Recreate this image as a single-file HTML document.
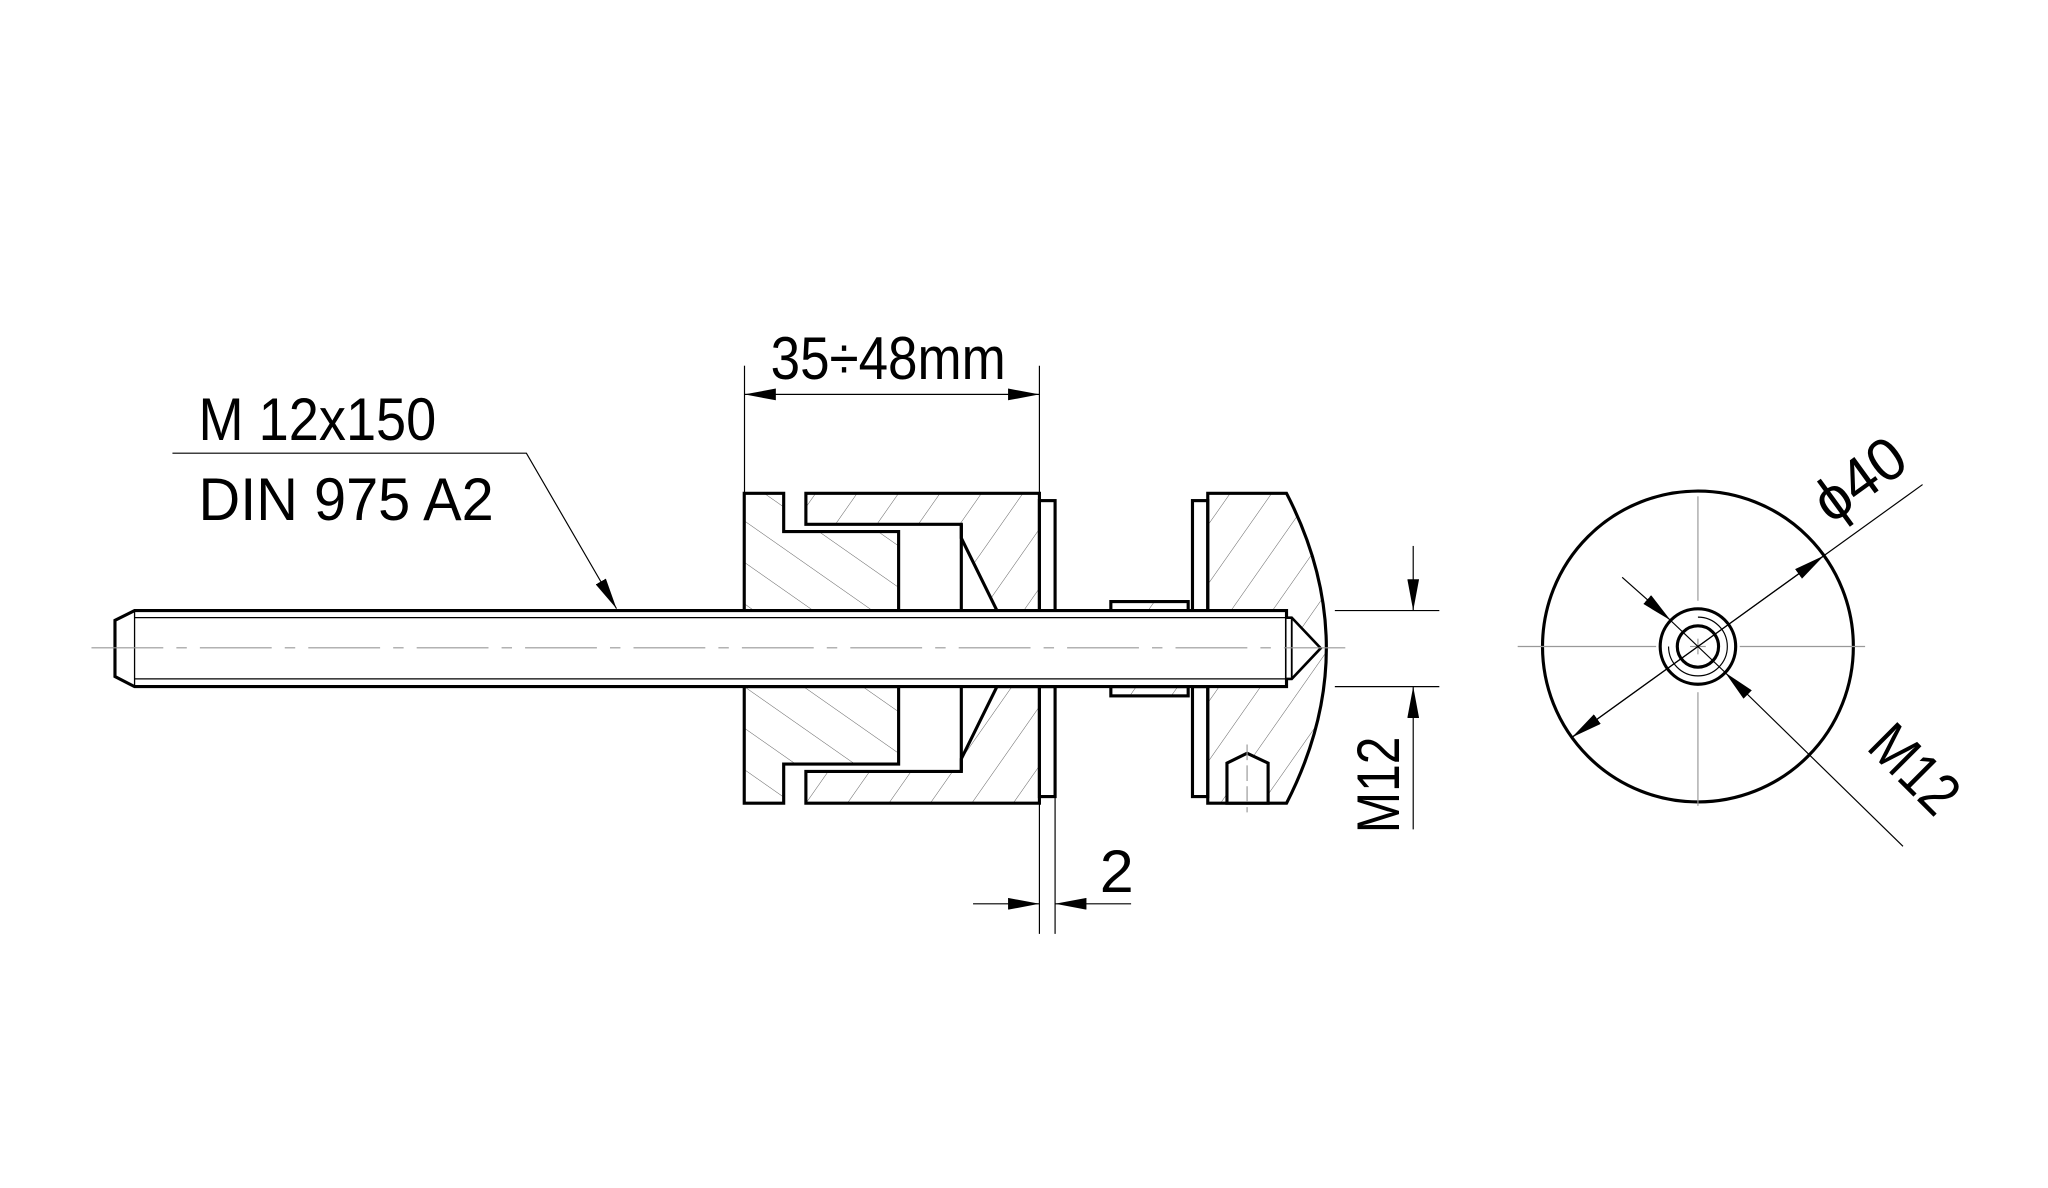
<!DOCTYPE html>
<html><head><meta charset="utf-8"><style>html,body{margin:0;padding:0;background:#fff}svg{display:block}</style></head>
<body>
<svg width="2048" height="1188" viewBox="0 0 1568 909.6" xmlns="http://www.w3.org/2000/svg">
<defs>
<pattern id="hf" patternUnits="userSpaceOnUse" width="26" height="26" patternTransform="rotate(35)"><line x1="0" y1="0" x2="0" y2="26" stroke="#555" stroke-width="0.7"/></pattern>
<pattern id="hb" patternUnits="userSpaceOnUse" width="26" height="26" patternTransform="rotate(-55)"><line x1="0" y1="0" x2="0" y2="26" stroke="#555" stroke-width="0.7"/></pattern>
<marker id="ar" viewBox="0 0 24 9" refX="24" refY="4.5" markerWidth="24" markerHeight="9" markerUnits="userSpaceOnUse" orient="auto"><path d="M0,0 L24,4.5 L0,9 Z" fill="#000"/></marker>
</defs>
<g fill="none" stroke="#000" stroke-width="2.4" stroke-linejoin="miter">
<path d="M569.8,377.7 H600 V407 H688 V467.5 H569.8 Z" fill="url(#hb)"/>
<path d="M569.8,525.7 H688 V585 H600 V615 H569.8 Z" fill="url(#hb)"/>
<path d="M617,377.7 H795.8 V467.5 H763.3 L736,412 V401.4 H617 Z" fill="url(#hf)"/>
<path d="M617,615 H795.8 V525.7 H763.3 L736,581 V590.7 H617 Z" fill="url(#hf)"/>
<line x1="736" y1="401.4" x2="736" y2="467.5"/><line x1="736" y1="525.7" x2="736" y2="590.7"/>
<rect x="795.8" y="383.3" width="12" height="84.2"/><rect x="795.8" y="525.7" width="12" height="84.2"/>
<rect x="850.5" y="460.6" width="59.2" height="6.9" fill="url(#hf)"/><rect x="850.5" y="525.7" width="59.2" height="7.1" fill="url(#hf)"/>
<rect x="913" y="383.3" width="11.7" height="84.2"/><rect x="913" y="525.7" width="11.7" height="84.2"/>
<path d="M924.7,377.7 H985 Q1046,496 985,615 H924.7 Z" fill="url(#hf)"/>
<path d="M939.4,615 V584.3 L954.8,576.7 L970.9,584.3 V615 Z" fill="#fff"/>
<path d="M103,467.5 H985 V525.7 H103 L88,518 V475 Z" fill="#fff"/>
<path d="M985,472.9 H989 L1011.2,496.3 L989,519.8 H985" fill="#fff" stroke-width="2"/>
<line x1="989" y1="472.9" x2="989" y2="519.8" stroke-width="1.4"/>
</g>
<g stroke="#000" stroke-width="1" fill="none">
<line x1="103" y1="472.9" x2="985" y2="472.9"/><line x1="103" y1="519.8" x2="985" y2="519.8"/>
<line x1="103" y1="467.5" x2="103" y2="525.7"/>
</g>
<g stroke="#999" stroke-width="0.9" fill="none">
<line x1="70" y1="496" x2="1030" y2="496" stroke-dasharray="55,10,8,10"/>
<line x1="954.8" y1="570" x2="954.8" y2="622" stroke-dasharray="12,4"/>
</g>
<g stroke="#000" stroke-width="0.9" fill="none">
<line x1="570" y1="280" x2="570" y2="377"/><line x1="795.8" y1="280" x2="795.8" y2="383"/>
<line x1="570" y1="302" x2="795.8" y2="302" marker-end="url(#ar)"/><line x1="795.8" y1="302" x2="570" y2="302" marker-end="url(#ar)"/>
<polyline points="132,347 403,347 472,466" marker-end="url(#ar)"/>
<line x1="795.8" y1="615" x2="795.8" y2="715"/><line x1="807.8" y1="610" x2="807.8" y2="715"/>
<line x1="745" y1="692" x2="795.8" y2="692" marker-end="url(#ar)"/><line x1="866" y1="692" x2="807.8" y2="692" marker-end="url(#ar)"/>
<line x1="1022" y1="467.5" x2="1102" y2="467.5"/><line x1="1022" y1="525.7" x2="1102" y2="525.7"/>
<line x1="1082" y1="418" x2="1082" y2="467.5" marker-end="url(#ar)"/><line x1="1082" y1="635" x2="1082" y2="525.7" marker-end="url(#ar)"/>
</g>
<g fill="none" stroke="#000">
<circle cx="1300" cy="495" r="119" stroke-width="2.4"/>
<circle cx="1300" cy="495" r="28.9" stroke-width="2.4"/>
<circle cx="1300" cy="495" r="15.8" stroke-width="2.4"/>
<path d="M1300,472.5 A22.5,22.5 0 1 1 1277.5,495" stroke-width="0.9"/>
</g>
<g stroke="#999" stroke-width="0.9">
<line x1="1162" y1="495" x2="1268" y2="495"/><line x1="1294" y1="495" x2="1306" y2="495"/><line x1="1332" y1="495" x2="1428" y2="495"/>
<line x1="1300" y1="380" x2="1300" y2="460"/><line x1="1300" y1="489" x2="1300" y2="501"/><line x1="1300" y1="530" x2="1300" y2="617"/>
</g>
<g stroke="#000" stroke-width="0.9" fill="none">
<line x1="1203.5" y1="564.6" x2="1396.5" y2="425.4" marker-end="url(#ar)"/>
<line x1="1396.5" y1="425.4" x2="1203.5" y2="564.6" marker-end="url(#ar)"/>
<line x1="1396.5" y1="425.4" x2="1472" y2="371"/>
<line x1="1242" y1="442" x2="1279.1" y2="475" marker-end="url(#ar)"/>
<line x1="1457" y1="648" x2="1320.9" y2="515" marker-end="url(#ar)"/>
<line x1="1279" y1="475" x2="1321" y2="515"/>
</g>
<g font-family="'Liberation Sans Narrow','Liberation Sans',sans-serif" font-size="46" fill="#000">
<text x="590" y="290" textLength="180" lengthAdjust="spacingAndGlyphs">35÷48mm</text>
<text x="152" y="337" textLength="182" lengthAdjust="spacingAndGlyphs">M 12x150</text>
<text x="152" y="398" textLength="226" lengthAdjust="spacingAndGlyphs">DIN 975 A2</text>
<text x="842" y="683" textLength="26" lengthAdjust="spacingAndGlyphs">2</text>
<text transform="translate(1071,638) rotate(-90)" textLength="74" lengthAdjust="spacingAndGlyphs">M12</text>
<text transform="translate(1402,402) rotate(-36)" textLength="76" lengthAdjust="spacingAndGlyphs">ϕ40</text>
<text transform="translate(1428,573) rotate(45)" textLength="76" lengthAdjust="spacingAndGlyphs">M12</text>
</g>
</svg>
</body></html>
